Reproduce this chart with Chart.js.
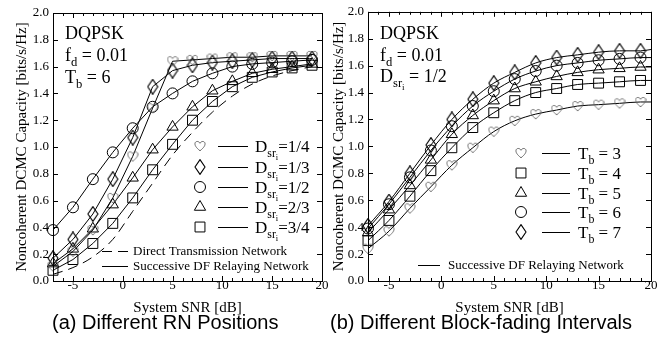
<!DOCTYPE html>
<html>
<head>
<meta charset="utf-8">
<script src="https://cdn.jsdelivr.net/npm/chart.js@4.4.0/dist/chart.umd.min.js"></script>
<style>
  body { margin: 0; background: #fff; width: 659px; height: 354px; position: relative; overflow: hidden; }
  canvas { position: absolute; top: 0; }
  #chartA { left: 0; }
  #chartB { left: 330px; }
  .cap { position: absolute; top: 311px; font-family: "Liberation Sans", Arial, sans-serif; font-size: 20px; color: #000; white-space: nowrap; }
</style>
</head>
<body>
<canvas id="chartA" width="330" height="320"></canvas>
<canvas id="chartB" width="329" height="320"></canvas>
<div class="cap" style="left:52px">(a) Different RN Positions</div>
<div class="cap" style="left:330px">(b) Different Block-fading Intervals</div>
<script>
// x positions of the simulated points [dB]
const snr = [-7, -5, -3, -1, 1, 3, 5, 7, 9, 11, 13, 15, 17, 19];
const xTickLabels = [-5, 0, 5, 10, 15, 20];
const yTickLabels = [0, 0.2, 0.4, 0.6, 0.8, 1.0, 1.2, 1.4, 1.6, 1.8, 2.0];

// (a) different RN positions, T_b = 6
const dsr14 = [0.11, 0.22, 0.38, 0.62, 0.93, 1.29, 1.64, 1.65, 1.66, 1.67, 1.67, 1.68, 1.68, 1.68];
const dsr13 = [0.17, 0.31, 0.50, 0.76, 1.07, 1.45, 1.57, 1.61, 1.63, 1.64, 1.65, 1.66, 1.66, 1.66];
const dsr12 = [0.38, 0.55, 0.76, 0.96, 1.14, 1.30, 1.40, 1.49, 1.55, 1.60, 1.62, 1.63, 1.64, 1.65];
const dsr23 = [0.13, 0.24, 0.39, 0.57, 0.77, 0.98, 1.15, 1.30, 1.42, 1.49, 1.55, 1.58, 1.60, 1.62];
const dsr34 = [0.08, 0.16, 0.28, 0.43, 0.62, 0.83, 1.02, 1.20, 1.34, 1.45, 1.52, 1.56, 1.59, 1.61];
const direct = [0.05, 0.10, 0.18, 0.31, 0.52, 0.73, 0.94, 1.11, 1.26, 1.38, 1.47, 1.53, 1.57, 1.60];
const labelsA = ["1/4", "1/3", "1/2", "2/3", "3/4"];

// (b) different block-fading intervals, D_sr = 1/2
const tb3 = [0.24, 0.37, 0.54, 0.70, 0.86, 0.99, 1.11, 1.19, 1.24, 1.27, 1.30, 1.31, 1.32, 1.33];
const tb4 = [0.30, 0.45, 0.63, 0.82, 0.99, 1.14, 1.25, 1.34, 1.40, 1.43, 1.46, 1.47, 1.48, 1.49];
const tb5 = [0.36, 0.53, 0.71, 0.90, 1.09, 1.23, 1.34, 1.43, 1.48, 1.52, 1.55, 1.57, 1.58, 1.59];
const tb6 = [0.39, 0.57, 0.77, 0.97, 1.15, 1.30, 1.41, 1.50, 1.56, 1.60, 1.62, 1.64, 1.65, 1.66];
const tb7 = [0.41, 0.59, 0.80, 1.01, 1.20, 1.35, 1.47, 1.55, 1.62, 1.66, 1.68, 1.70, 1.71, 1.71];
const tbEnd = [1.33, 1.49, 1.59, 1.66, 1.72]; // where the curves end, at 20 dB
const endSnr = 20;
const labelsB = ["3", "4", "5", "6", "7"];

const SERIF = '"Liberation Serif", "Times New Roman", serif';

// markers chart.js has no shape for
function heartMarker(color) {
  const c = document.createElement("canvas");
  c.width = 12; c.height = 12;
  const g = c.getContext("2d");
  g.strokeStyle = color; g.lineWidth = 1;
  g.beginPath();
  g.moveTo(6, 10.8);
  g.bezierCurveTo(1.8, 7.4, 0.7, 5.2, 1, 3.3);
  g.bezierCurveTo(1.4, 1, 4.7, 0.7, 6, 3.3);
  g.bezierCurveTo(7.3, 0.7, 10.6, 1, 11, 3.3);
  g.bezierCurveTo(11.3, 5.2, 10.2, 7.4, 6, 10.8);
  g.stroke();
  return c;
}
function diamondMarker(color) {
  const c = document.createElement("canvas");
  c.width = 12; c.height = 16;
  const g = c.getContext("2d");
  g.strokeStyle = color; g.lineWidth = 1.1;
  g.beginPath();
  g.moveTo(6, 0.6); g.lineTo(11, 8); g.lineTo(6, 15.4); g.lineTo(1, 8);
  g.closePath();
  g.stroke();
  return c;
}
const heart = heartMarker("#666");
const diamond = diamondMarker("#000");
const marks = [heart, diamond, "circle", "triangle", "rect"];
const radii = [6, 7, 5.5, 6.5, 7];
const marksB = [heart, "rect", "triangle", "circle", diamond];
const radiiB = [6, 7, 6.5, 5.5, 7];

// text with subscripts: parts = [[text, level]], level 1 = sub, 2 = sub of sub
function drawRich(ctx, parts, x, y, size) {
  ctx.textBaseline = "alphabetic";
  ctx.textAlign = "left";
  ctx.fillStyle = "#000";
  for (const [txt, lvl] of parts) {
    const s = lvl === 0 ? size : lvl === 1 ? size * 0.7 : size * 0.5;
    const dy = lvl === 0 ? 0 : lvl === 1 ? size * 0.28 : size * 0.45;
    ctx.font = s + "px " + SERIF;
    ctx.fillText(txt, x, y + dy);
    x += ctx.measureText(txt).width;
  }
  return x;
}

function drawMarker(ctx, style, r, x, y) {
  ctx.strokeStyle = "#000";
  ctx.fillStyle = "rgba(0,0,0,0)";
  ctx.lineWidth = 1;
  Chart.helpers.drawPoint(ctx, { pointStyle: style, radius: r, rotation: 0, borderWidth: 1 }, x, y);
}

function hline(ctx, x1, x2, y, dash) {
  ctx.save();
  ctx.strokeStyle = "#000";
  ctx.lineWidth = 1;
  ctx.setLineDash(dash || []);
  ctx.beginPath();
  ctx.moveTo(x1, y + 0.5);
  ctx.lineTo(x2, y + 0.5);
  ctx.stroke();
  ctx.restore();
}

// box round the plot and the inward ticks
const framePlugin = {
  id: "frame",
  afterDraw(chart) {
    const { ctx, chartArea: a, scales: { x, y } } = chart;
    ctx.save();
    ctx.strokeStyle = "#000";
    ctx.lineWidth = 1;
    ctx.strokeRect(Math.round(a.left) + 0.5, Math.round(a.top) + 0.5, Math.round(a.right - a.left), Math.round(a.bottom - a.top));
    ctx.beginPath();
    for (let v = -7; v <= 20; v++) {
      const px = Math.round(x.getPixelForValue(v)) + 0.5;
      const len = v % 5 === 0 ? 5 : 3;
      ctx.moveTo(px, a.bottom); ctx.lineTo(px, a.bottom - len);
      ctx.moveTo(px, a.top); ctx.lineTo(px, a.top + len);
    }
    yTickLabels.forEach((v) => {
      const py = Math.round(y.getPixelForValue(v)) + 0.5;
      ctx.moveTo(a.left, py); ctx.lineTo(a.left + 5, py);
      ctx.moveTo(a.right, py); ctx.lineTo(a.right - 5, py);
    });
    ctx.stroke();
    ctx.restore();
  },
};

function options(yWidth, yTitlePad) {
  return {
    responsive: false,
    animation: false,
    layout: { padding: { top: 13, right: 8, left: 0, bottom: 0 } },
    plugins: { legend: { display: false }, tooltip: { enabled: false } },
    scales: {
      x: {
        type: "linear", min: -7, max: 20,
        afterBuildTicks: (s) => { s.ticks = xTickLabels.map((v) => ({ value: v })); },
        afterFit: (s) => { s.height = 39; },
        grid: { display: false, drawTicks: false },
        border: { display: false },
        ticks: { color: "#000", font: { family: SERIF, size: 13 }, padding: -3, maxRotation: 0, autoSkip: false },
        title: { display: true, text: "System SNR [dB]", color: "#000", font: { family: SERIF, size: 15 }, padding: { top: 0, bottom: 3 } },
      },
      y: {
        min: 0, max: 2,
        afterBuildTicks: (s) => { s.ticks = yTickLabels.map((v) => ({ value: v })); },
        afterFit: (s) => { s.width = yWidth; },
        grid: { display: false, drawTicks: false },
        border: { display: false },
        ticks: { color: "#000", font: { family: SERIF, size: 13 }, padding: 4, callback: (v) => v.toFixed(1) },
        title: { display: true, text: "Noncoherent DCMC Capacity [bits/s/Hz]", color: "#000", font: { family: SERIF, size: 15 }, padding: { top: yTitlePad, bottom: 0 } },
      },
    },
  };
}

function markedSet(vals, style, r, extra) {
  const pts = snr.map((x, i) => ({ x: x, y: vals[i] }));
  if (extra !== undefined) pts.push({ x: endSnr, y: extra });
  return {
    data: pts,
    borderColor: "#000",
    borderWidth: 1,
    pointStyle: style,
    pointRadius: (c) => (c.dataIndex < snr.length ? r : 0),
    pointBorderColor: "#000",
    pointBorderWidth: 1,
    pointBackgroundColor: "rgba(0,0,0,0)",
    clip: false,
  };
}

// (a)
const setsA = [dsr14, dsr13, dsr12, dsr23, dsr34].map((v, i) => markedSet(v, marks[i], radii[i]));
setsA.push({
  data: snr.map((x, i) => ({ x: x, y: direct[i] })),
  borderColor: "#000", borderWidth: 1, borderDash: [10, 6],
  pointRadius: 0, cubicInterpolationMode: "monotone", clip: false,
});

const notesA = {
  id: "notesA",
  afterDraw(chart) {
    const ctx = chart.ctx;
    ctx.save();
    drawRich(ctx, [["DQPSK", 0]], 65, 39, 18);
    drawRich(ctx, [["f", 0], ["d", 1], [" = 0.01", 0]], 65, 61, 18);
    drawRich(ctx, [["T", 0], ["b", 1], [" = 6", 0]], 65, 83, 18);
    const rows = [146, 167, 187, 207, 227];
    rows.forEach((ry, i) => {
      drawMarker(ctx, marks[i], radii[i], 200, ry);
      hline(ctx, 218, 248, ry);
      drawRich(ctx, [["D", 0], ["sr", 1], ["i", 2], ["=" + labelsA[i], 0]], 255, ry + 6, 17);
    });
    hline(ctx, 102, 128, 251, [10, 6]);
    drawRich(ctx, [["Direct Transmission Network", 0]], 133, 255, 13);
    hline(ctx, 102, 128, 266);
    drawRich(ctx, [["Successive DF Relaying Network", 0]], 133, 270, 13);
    ctx.restore();
  },
};

new Chart(document.getElementById("chartA"), {
  type: "line",
  data: { datasets: setsA },
  options: options(53, 13),
  plugins: [framePlugin, notesA],
});

// (b)
const setsB = [tb3, tb4, tb5, tb6, tb7].map((v, i) => {
  const d = markedSet(v, marksB[i], radiiB[i], tbEnd[i]);
  d.cubicInterpolationMode = "monotone";
  return d;
});

const notesB = {
  id: "notesB",
  afterDraw(chart) {
    const ctx = chart.ctx;
    ctx.save();
    drawRich(ctx, [["DQPSK", 0]], 50, 39, 18);
    drawRich(ctx, [["f", 0], ["d", 1], [" = 0.01", 0]], 50, 61, 18);
    drawRich(ctx, [["D", 0], ["sr", 1], ["i", 2], [" = 1/2", 0]], 50, 82, 18);
    const rows = [153, 173, 193, 212, 232];
    rows.forEach((ry, i) => {
      drawMarker(ctx, marksB[i], radiiB[i], 191, ry);
      hline(ctx, 212, 240, ry);
      drawRich(ctx, [["T", 0], ["b", 1], [" = " + labelsB[i], 0]], 248, ry + 6, 17);
    });
    hline(ctx, 88, 110, 265);
    drawRich(ctx, [["Successive DF Relaying Network", 0]], 118, 269, 13);
    ctx.restore();
  },
};

const optB = options(38, 0);
optB.layout.padding.top = 11;
new Chart(document.getElementById("chartB"), {
  type: "line",
  data: { datasets: setsB },
  options: optB,
  plugins: [framePlugin, notesB],
});
</script>
</body>
</html>
